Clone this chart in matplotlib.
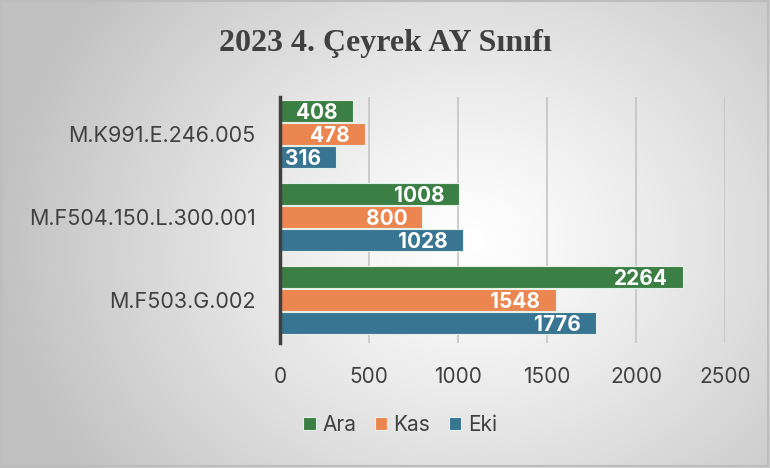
import numpy as np
import matplotlib
matplotlib.use("Agg")
import matplotlib.pyplot as plt
from matplotlib.patches import Rectangle

categories = ["M.K991.E.246.005", "M.F504.150.L.300.001", "M.F503.G.002"]
series_names = ["Ara", "Kas", "Eki"]
ara = [408, 1008, 2264]
kas = [478, 800, 1548]
eki = [316, 1028, 1776]
xticks = [0, 500, 1000, 1500, 2000, 2500]
title = "2023 4. Çeyrek AY Sınıfı"

colors = ["#3b7f45", "#ec8651", "#387592"]
txt = "#404040"

W, H = 770, 468
fig = plt.figure(figsize=(W / 100, H / 100), dpi=100)

# background radial gradient
bg = fig.add_axes([0, 0, 1, 1], zorder=-10)
yy, xx = np.mgrid[0:H, 0:W]
cx, cy = 470, 240
r = np.sqrt(((xx - cx) / 1.0) ** 2 + ((yy - cy) / 0.85) ** 2)
v = 1.0 - 0.24 * np.clip(r / 470, 0, 1) ** 1.2
img = np.dstack([v, v, v])
bg.imshow(img, extent=[0, W, H, 0], aspect="auto")
bg.set_xlim(0, W)
bg.set_ylim(H, 0)
bg.axis("off")
bg.add_patch(Rectangle((1, 1), W - 3, H - 3, fill=False, edgecolor="#bdbdbd", lw=1.5))

ax = fig.add_axes([280 / W, 1 - 343 / H, (725 - 280) / W, (343 - 97) / H])
ax.patch.set_alpha(0)

y = np.arange(len(categories))
h = 0.265
offsets = [-h - 0.012, 0, h + 0.012]
for vals, c, off, name in zip([ara, kas, eki], colors, offsets, series_names):
    bars = ax.barh(y + off, vals, height=h, color=c, edgecolor="#e6efe6", linewidth=0.8, label=name, zorder=3)
    for b, val in zip(bars, vals):
        ax.text(b.get_width() - 85, b.get_y() + b.get_height() / 2 + 0.025, str(val),
                ha="right", va="center", color="white", fontsize=15, fontweight="bold",
                family="Inter", zorder=4)

ax.set_xlim(0, 2500)
ax.set_ylim(2.515, -0.44)
ax.set_xticks(xticks)
ax.set_xticklabels([str(t) for t in xticks], fontsize=15, color=txt, family="Inter")
ax.set_yticks(y)
ax.set_yticklabels(categories, fontsize=15.5, color=txt, family="Inter")
ax.tick_params(axis="both", length=0)
ax.tick_params(axis="x", pad=17)
ax.tick_params(axis="y", pad=17.5)
ax.xaxis.grid(True, color="#c4c4c4", lw=1.2, zorder=0)
for s in ["top", "right", "bottom"]:
    ax.spines[s].set_visible(False)
ax.spines["left"].set_color("#404040")
ax.spines["left"].set_linewidth(2.5)
ax.spines["left"].set_zorder(5)

fig.text(0.5, 1 - 44 / H, title, ha="center", va="center", fontsize=23, fontweight="bold",
         family="Liberation Serif", color=txt)

handles, labels = ax.get_legend_handles_labels()
leg = fig.legend(handles, labels, loc="center", bbox_to_anchor=(400 / W, 1 - 425 / H), ncol=3,
                 frameon=False, prop={"family": "Inter", "size": 15}, handlelength=0.6,
                 handleheight=0.6, handletextpad=0.3, columnspacing=0.9)
for t in leg.get_texts():
    t.set_color(txt)

fig.savefig("out.png", dpi=100)
